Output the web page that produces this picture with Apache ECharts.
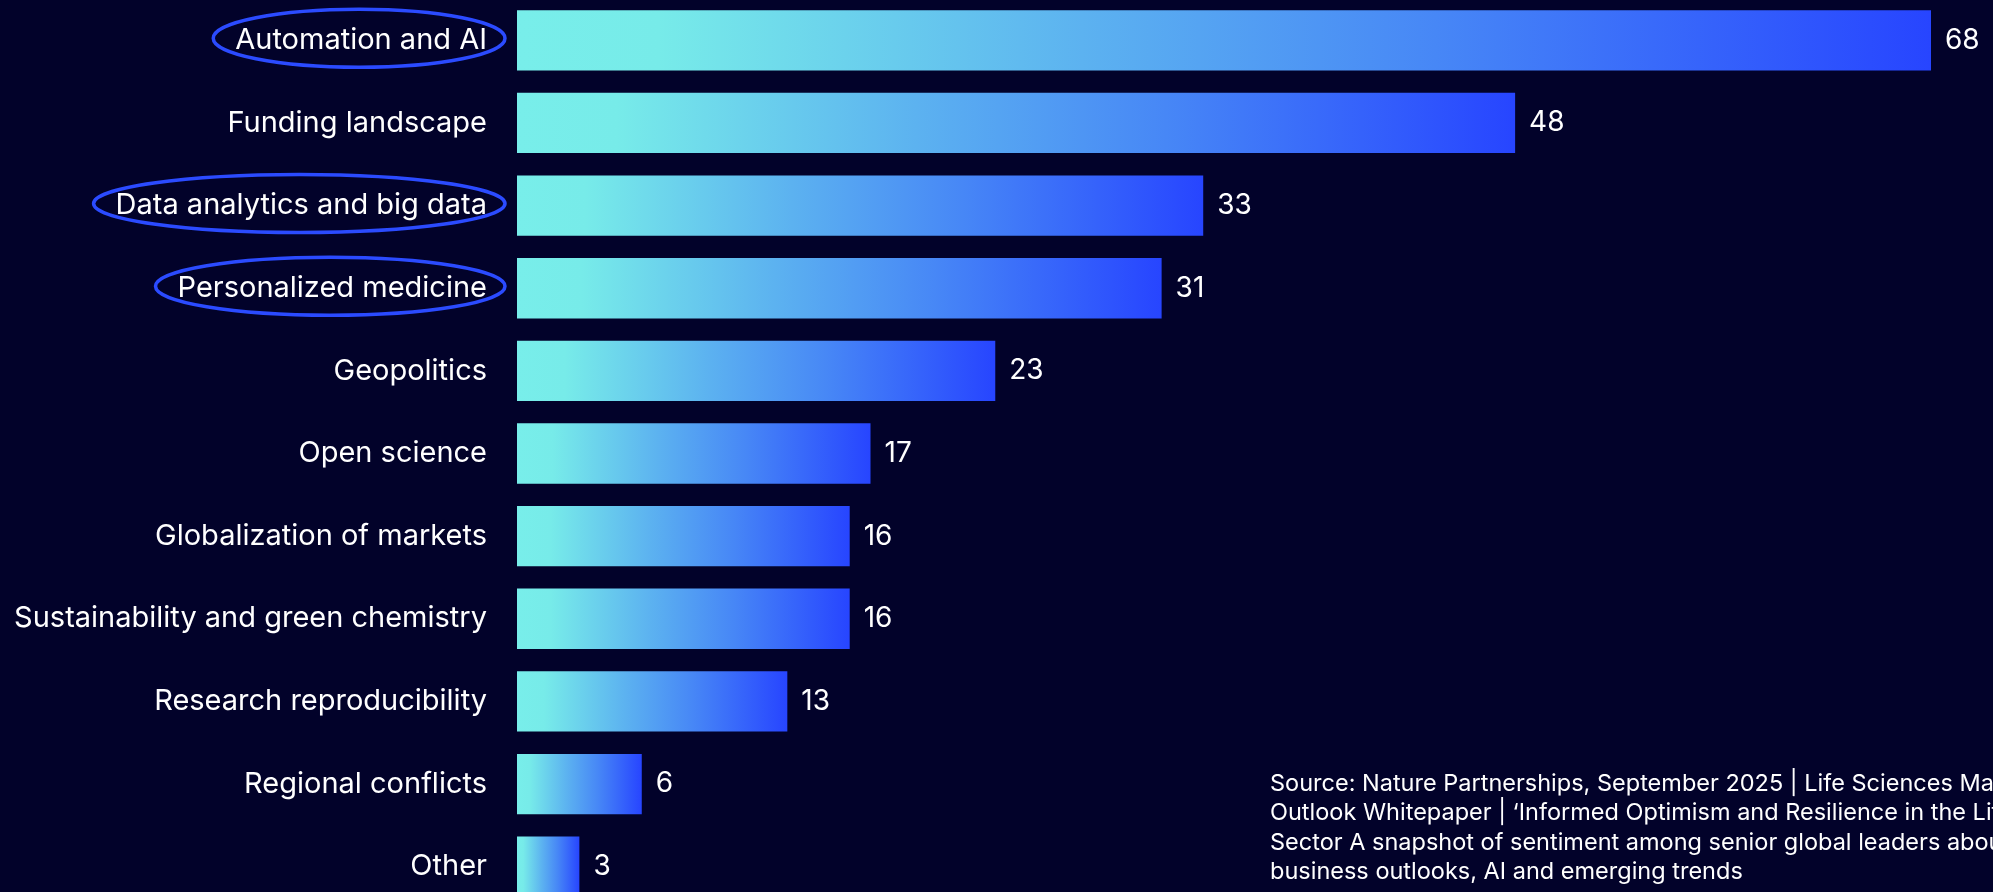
<!DOCTYPE html>
<html>
<head>
<meta charset="utf-8">
<script src="https://cdn.jsdelivr.net/npm/echarts@6/dist/echarts.min.js"></script>
<style>
  html, body { margin: 0; padding: 0; background: #02022a; }
  #chart { width: 1993px; height: 892px; }
</style>
</head>
<body>
<div id="chart"></div>
<script>
const categories = [
  'Automation and AI',
  'Funding landscape',
  'Data analytics and big data',
  'Personalized medicine',
  'Geopolitics',
  'Open science',
  'Globalization of markets',
  'Sustainability and green chemistry',
  'Research reproducibility',
  'Regional conflicts',
  'Other'
]
const values = [68, 48, 33, 31, 23, 17, 16, 16, 13, 6, 3]

// labels circled in the original
const highlighted = ['Automation and AI', 'Data analytics and big data', 'Personalized medicine']

const sourceLines = [
  'Source: Nature Partnerships, September 2025 | Life Sciences Market',
  'Outlook Whitepaper | \u2018Informed Optimism and Resilience in the Life Sciences',
  'Sector A snapshot of sentiment among senior global leaders about',
  'business outlooks, AI and emerging trends'
]

const FONT = 'Inter, "Open Sans", sans-serif'
const LABEL_SIZE = 29

const barGradient = new echarts.graphic.LinearGradient(0, 0, 1, 0, [
  { offset: 0, color: '#78eeea' },
  { offset: 0.1, color: '#77ebe9' },
  { offset: 0.4, color: '#5cb2f0' },
  { offset: 0.65, color: '#4787f6' },
  { offset: 1, color: '#2745ff' }
])

const chart = echarts.init(document.getElementById('chart'))

chart.setOption({
  backgroundColor: '#02022a',
  animation: false,
  grid: {
    left: 517,
    right: 62,
    top: -1,
    height: 909,
    outerBoundsMode: 'none'
  },
  xAxis: {
    type: 'value',
    min: 0,
    max: 68,
    show: false
  },
  yAxis: {
    type: 'category',
    data: categories,
    inverse: true,
    axisLine: { show: false },
    axisTick: { show: false },
    axisLabel: {
      color: '#ffffff',
      fontFamily: FONT,
      fontSize: LABEL_SIZE,
      margin: 30
    }
  },
  series: [{
    type: 'bar',
    data: values,
    barCategoryGap: '27%',
    itemStyle: { color: barGradient },
    label: {
      show: true,
      position: 'right',
      distance: 14,
      color: '#ffffff',
      fontFamily: FONT,
      fontSize: 28
    }
  }]
})

// ellipses round the highlighted labels, placed from the axis and measured text
const ctx = document.createElement('canvas').getContext('2d')
ctx.font = LABEL_SIZE + 'px ' + FONT
const labelRight = 517 - 30

const ellipses = highlighted.map(name => {
  const cy = chart.convertToPixel({ yAxisIndex: 0 }, name)
  const w = ctx.measureText(name).width
  const left = labelRight - w - 22
  const right = labelRight + 18
  return {
    type: 'ellipse',
    shape: { cx: (left + right) / 2, cy: cy - 2, rx: (right - left) / 2, ry: 29 },
    style: { fill: 'none', stroke: '#2b4bff', lineWidth: 3.5 },
    silent: true
  }
})

chart.setOption({
  graphic: ellipses.concat([{
    type: 'text',
    left: 1270,
    top: 769,
    style: {
      text: sourceLines.join('\n'),
      fill: '#ffffff',
      font: '23.5px ' + FONT,
      lineHeight: 29.5
    },
    silent: true
  }])
})
</script>
</body>
</html>
